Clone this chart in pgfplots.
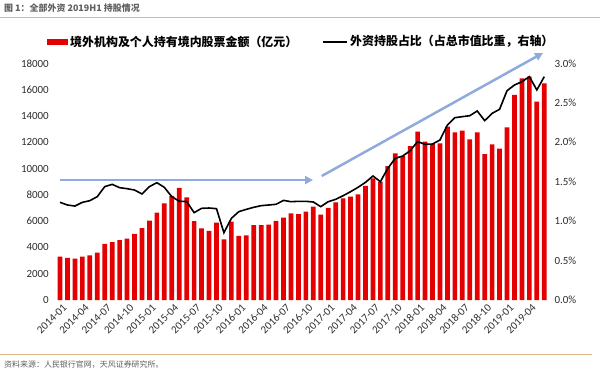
\documentclass[border=0pt]{standalone}
\usepackage{fontspec}
\setmainfont{Carlito}
\newfontfamily\cjk{Noto Sans CJK SC}
\usepackage{pgfplots}
\usepackage{pgfplotstable}
\pgfplotsset{compat=1.18}
\usetikzlibrary{arrows.meta}
\definecolor{barred}{RGB}{228,0,0}
\definecolor{arrowblue}{RGB}{143,170,220}
\definecolor{rulecol}{RGB}{222,184,140}
\definecolor{graytxt}{RGB}{95,95,95}
\definecolor{ticktxt}{RGB}{45,45,45}

\pgfplotstableread{
x amt pct
0 3300 1.238
1 3200 1.204
2 3150 1.191
3 3300 1.238
4 3400 1.259
5 3600 1.310
6 4260 1.437
7 4410 1.466
8 4560 1.424
9 4660 1.411
10 5020 1.394
11 5475 1.344
12 6030 1.437
13 6640 1.487
14 7350 1.428
15 7910 1.310
16 8520 1.252
17 7810 1.248
18 6000 1.107
19 5450 1.162
20 5250 1.166
21 5880 1.158
22 4610 0.853
23 5960 1.035
24 4870 1.120
25 4920 1.149
26 5700 1.175
27 5700 1.196
28 5730 1.204
29 6010 1.213
30 6260 1.263
31 6590 1.246
32 6540 1.251
33 6720 1.251
34 7100 1.242
35 6490 1.183
36 7000 1.246
37 7430 1.276
38 7730 1.322
39 7860 1.373
40 8040 1.428
41 8670 1.491
42 9250 1.572
43 9000 1.500
44 10190 1.669
45 11150 1.796
46 10950 1.825
47 11710 1.893
48 12800 2.007
49 12040 1.973
50 11860 1.977
51 11910 2.028
52 13180 2.218
53 12750 2.311
54 12880 2.324
55 12220 2.336
56 12750 2.396
57 11100 2.273
58 11840 2.366
59 11510 2.417
60 13130 2.653
61 15590 2.725
62 16860 2.767
63 16980 2.831
64 15080 2.662
65 16480 2.831
}\data

\begin{document}
\begin{tikzpicture}[x=1bp,y=1bp]
\path[use as bounding box] (0,0) rectangle (600,-372);
% header
\node[anchor=west, text=graytxt, font=\cjk\bfseries\fontsize{9}{10}\selectfont, inner sep=0] at (4,-8) {图 1：全部外资 2019H1 持股情况};
\draw[rulecol, line width=1bp] (0,-17.5) -- (600,-17.5);
% footer
\draw[rulecol, line width=1bp] (0,-354) -- (592,-354);
\node[anchor=west, text=graytxt, font=\cjk\fontsize{8}{9}\selectfont, inner sep=0] at (4,-365) {资料来源：人民银行官网，天风证券研究所。};
% legend
\fill[barred] (47,-39) rectangle (68,-44.5);
\node[anchor=west, font=\cjk\bfseries\fontsize{12}{13}\selectfont, inner sep=0] at (70,-41.5) {境外机构及个人持有境内股票金额（亿元）};
\draw[black, line width=2bp] (323,-41.5) -- (347,-41.5);
\node[anchor=west, font=\cjk\bfseries\fontsize{12}{13}\selectfont, inner sep=0] at (350,-41.5) {外资持股占比（占总市值比重，右轴）};

\begin{axis}[
  scale only axis, width=491.7bp, height=236.7bp,
  at={(56.3bp,-300bp)}, anchor=south west,
  xmin=-0.5, xmax=65.5, ymin=0, ymax=18000,
  axis x line*=bottom, axis y line*=left,
  axis line style={draw=none}, major tick length=0pt,
  clip=false,
  scaled y ticks=false,
  /pgf/number format/assume math mode=true,
  /pgf/number format/1000 sep={},
  ytick={0,2000,...,18000},
  yticklabel style={font=\fontsize{11}{12}\selectfont, text=ticktxt, xshift=-4bp},
  xtick={0,3,...,63},
  xticklabels={2014-01,2014-04,2014-07,2014-10,2015-01,2015-04,2015-07,2015-10,2016-01,2016-04,2016-07,2016-10,2017-01,2017-04,2017-07,2017-10,2018-01,2018-04,2018-07,2018-10,2019-01,2019-04},
  xticklabel style={font=\fontsize{11}{12}\selectfont, text=ticktxt, rotate=45, anchor=north east, inner sep=0.5bp, yshift=-3bp},
]
\addplot[ybar, bar width=4.7bp, fill=barred, draw=none] table[x=x,y=amt]{\data};
\draw[arrowblue, line width=2.5bp, -{Triangle[length=8bp,width=8bp]}] (axis cs:0,9120) -- (axis cs:33.96,9120);
\draw[arrowblue, line width=2.5bp, -{Triangle[length=8bp,width=8bp]}] (axis cs:35.13,9430) -- (axis cs:64.83,18790);
\end{axis}

\begin{axis}[
  scale only axis, width=491.7bp, height=236.7bp,
  at={(56.3bp,-300bp)}, anchor=south west,
  xmin=-0.5, xmax=65.5, ymin=0, ymax=3,
  axis x line=none, axis y line*=right,
  axis line style={draw=none}, major tick length=0pt,
  /pgf/number format/assume math mode=true,
  ytick={0,0.5,...,3},
  yticklabel={\pgfmathprintnumber[fixed,fixed zerofill,precision=1]{\tick}\%},
  yticklabel style={font=\fontsize{11}{12}\selectfont, text=ticktxt, xshift=3bp},
]
\addplot[black, line width=1.6bp] table[x=x,y=pct]{\data};
\end{axis}
\end{tikzpicture}
\end{document}
